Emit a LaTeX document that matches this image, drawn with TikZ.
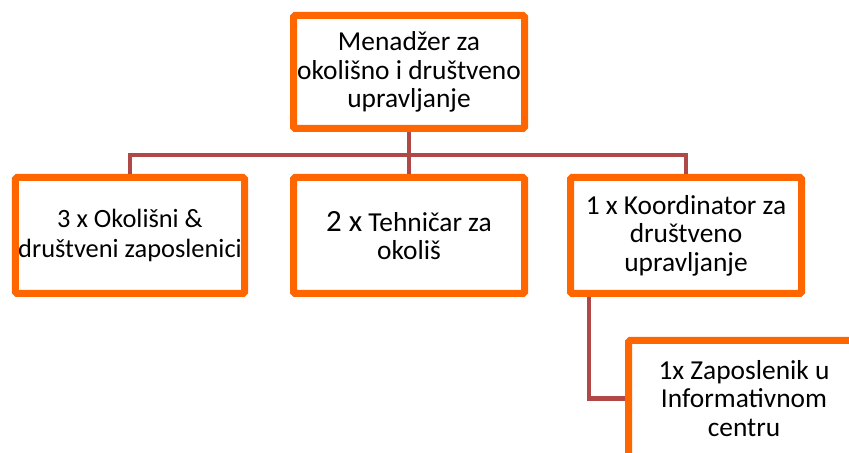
\documentclass[tikz,border=0pt]{standalone}
\usepackage{fontspec}
\setmainfont{Carlito}
\definecolor{boxorange}{HTML}{FF6600}
\definecolor{linkred}{HTML}{B04848}
\begin{document}
\begin{tikzpicture}[x=1bp,y=-1bp,
  orgbox/.style={draw=boxorange, line width=7bp, fill=white, rounded corners=1.5bp,
    align=center, inner sep=0pt, minimum width=231bp, minimum height=116bp,
    font=\fontsize{27.5}{28.5}\selectfont, text=black},
  link/.style={draw=linkred, line width=4.5bp}]
\useasboundingbox (0,0) rectangle (849,453);
\clip (0,0) rectangle (849,453);
\fill[white] (0,0) rectangle (849,453);
\coordinate (bar) at (0,155);
\node[orgbox, minimum height=113bp] (top) at (409,72) {Menadžer za\\okolišno i društveno\\upravljanje};
\node[orgbox, minimum width=229bp, font=\fontsize{26.5}{29.5}\selectfont] (left) at (130,235.5) {3 x Okolišni \&\\društveni zaposlenici};
\node[orgbox] (mid) at (409,235.5) {{\fontsize{31}{29.5}\selectfont 2 x} Tehničar za\\okoliš};
\node[orgbox] (right) at (686,235.5) {1 x Koordinator za\\društveno\\upravljanje};
\node[orgbox] (bottom) at (744,398.5) {1x Zaposlenik u\\Informativnom\\centru};
\coordinate (drop) at ([xshift=22bp]right.south west);
\draw[link] (top.south) -- (top.south |- bar);
\draw[link] (left.north) |- (bar -| right.north) -- (right.north);
\draw[link] (mid.north) -- (mid.north |- bar);
\draw[link] (drop) |- (bottom.west);
\end{tikzpicture}
\end{document}
